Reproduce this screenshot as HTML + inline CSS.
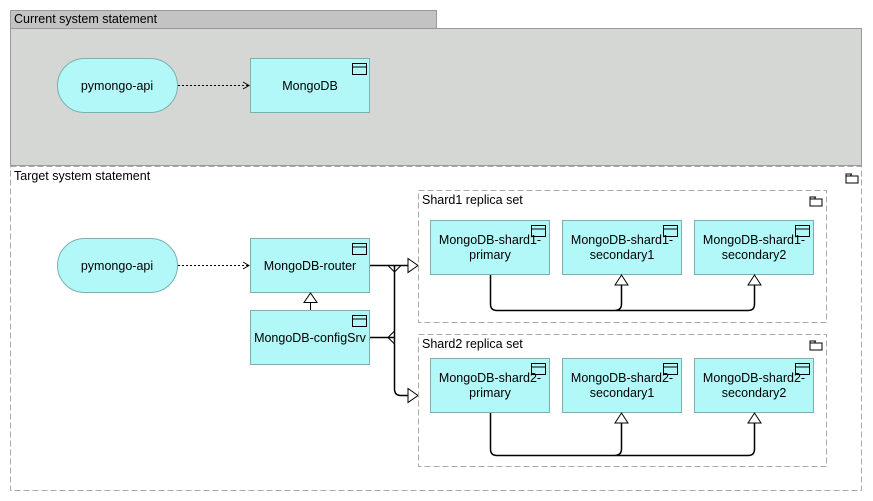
<!DOCTYPE html>
<html><head><meta charset="utf-8"><style>
html,body{margin:0;padding:0;background:#fff;}
svg{display:block;}
text{font-family:"Liberation Sans",sans-serif;fill:#000;}
</style></head><body>
<svg width="873" height="501" viewBox="0 0 873 501" xmlns="http://www.w3.org/2000/svg">
<defs>
<g id="comp"><rect x="0" y="0" width="14" height="11" fill="none" stroke="#000" stroke-width="1"/><line x1="0" y1="3.5" x2="14" y2="3.5" stroke="#000"/></g>
<g id="fold"><path d="M0.5 2.5 H5 L6 0.5 H0.5 Z M0.5 2.5 V9.5 H12.5 V2.5 Z" fill="none" stroke="#000"/></g>
</defs>
<!-- Current -->
<rect x="10.5" y="10.5" width="426" height="18" fill="#c2c3c2" stroke="#999"/>
<text x="14" y="23" font-size="12.5">Current system statement</text>
<rect x="10.5" y="28.5" width="851" height="137" fill="#d5d7d5" stroke="#999"/>
<rect x="57.5" y="58.5" width="120" height="54" rx="27" fill="#b3f8f8" stroke="#7ab0ae"/>
<text x="117" y="90" font-size="12.5" text-anchor="middle">pymongo-api</text>
<rect x="250.5" y="58.5" width="119" height="54" fill="#b3f8f8" stroke="#7ab0ae"/>
<use href="#comp" x="352.5" y="63.5"/>
<text x="310" y="90" font-size="12.5" text-anchor="middle">MongoDB</text>
<line x1="178" y1="85.5" x2="249" y2="85.5" stroke="#000" stroke-dasharray="2,2"/>
<path d="M243 82 L249 85.5 L243 89" fill="none" stroke="#000"/>
<!-- Target -->
<rect x="10.5" y="166.5" width="851" height="324" fill="#fff" stroke="#aaa" stroke-dasharray="6,3"/>
<text x="14" y="180" font-size="12.5">Target system statement</text>
<use href="#fold" x="845.5" y="173.5"/>
<rect x="57.5" y="238.5" width="120" height="54" rx="27" fill="#b3f8f8" stroke="#7ab0ae"/>
<text x="117" y="270" font-size="12.5" text-anchor="middle">pymongo-api</text>
<line x1="178" y1="265.5" x2="249" y2="265.5" stroke="#000" stroke-dasharray="2,2"/>
<path d="M243 262 L249 265.5 L243 269" fill="none" stroke="#000"/>
<rect x="250.5" y="238.5" width="119" height="54" fill="#b3f8f8" stroke="#7ab0ae"/>
<use href="#comp" x="352.5" y="243.5"/>
<text x="310" y="270" font-size="12.5" text-anchor="middle">MongoDB-router</text>
<rect x="250.5" y="310.5" width="119" height="54" fill="#b3f8f8" stroke="#7ab0ae"/>
<use href="#comp" x="352.5" y="315.5"/>
<text x="310" y="342" font-size="12.5" text-anchor="middle">MongoDB-configSrv</text>
<line x1="310.5" y1="310" x2="310.5" y2="302" stroke="#000"/>
<path d="M304 302.5 L310.5 293 L317 302.5 Z" fill="#fff" stroke="#000"/>
<!-- connectors -->
<path d="M370 265.5 H408 M394.5 265.5 V389 Q394.5 395.5 401 395.5 H408 M370 337.5 H394.5" fill="none" stroke="#000" stroke-width="1.5"/>
<path d="M388 265.5 L394.5 272 L401 265.5" fill="none" stroke="#000"/>
<path d="M394.5 331 L388 337.5 L394.5 344" fill="none" stroke="#000"/>
<path d="M408 258.5 L418 265.5 L408 272.5 Z" fill="#fff" stroke="#000"/>
<path d="M408 388.5 L418 395.5 L408 402.5 Z" fill="#fff" stroke="#000"/>
<!-- Shard1 -->
<rect x="418.5" y="190.5" width="408" height="132" fill="#fff" stroke="#aaa" stroke-dasharray="6,3"/>
<text x="422" y="204" font-size="12.5">Shard1 replica set</text>
<use href="#fold" x="809.5" y="196.5"/>
<g font-size="12.5" text-anchor="middle">
<rect x="430.5" y="220.5" width="119" height="54" fill="#b3f8f8" stroke="#7ab0ae"/>
<text x="490" y="244">MongoDB-shard1-</text><text x="490" y="259">primary</text>
<rect x="562.5" y="220.5" width="119" height="54" fill="#b3f8f8" stroke="#7ab0ae"/>
<text x="622" y="244">MongoDB-shard1-</text><text x="622" y="259">secondary1</text>
<rect x="694.5" y="220.5" width="119" height="54" fill="#b3f8f8" stroke="#7ab0ae"/>
<text x="754" y="244">MongoDB-shard1-</text><text x="754" y="259">secondary2</text>
</g>
<use href="#comp" x="531.5" y="225.5"/><use href="#comp" x="663.5" y="225.5"/><use href="#comp" x="795.5" y="225.5"/>
<path d="M490.5 275 V304 Q490.5 310.5 497 310.5 H748 Q754.5 310.5 754.5 304 V285 M614 310.5 Q621.5 310.5 621.5 304 V285" fill="none" stroke="#000" stroke-width="1.5"/>
<path d="M615 285 L621.5 275 L628 285 Z" fill="#fff" stroke="#000"/>
<path d="M748 285 L754.5 275 L761 285 Z" fill="#fff" stroke="#000"/>
<!-- Shard2 -->
<rect x="418.5" y="334.5" width="408" height="132" fill="#fff" stroke="#aaa" stroke-dasharray="6,3"/>
<text x="422" y="348" font-size="12.5">Shard2 replica set</text>
<use href="#fold" x="809.5" y="340.5"/>
<g font-size="12.5" text-anchor="middle">
<rect x="430.5" y="358.5" width="119" height="54" fill="#b3f8f8" stroke="#7ab0ae"/>
<text x="490" y="382">MongoDB-shard2-</text><text x="490" y="397">primary</text>
<rect x="562.5" y="358.5" width="119" height="54" fill="#b3f8f8" stroke="#7ab0ae"/>
<text x="622" y="382">MongoDB-shard2-</text><text x="622" y="397">secondary1</text>
<rect x="694.5" y="358.5" width="119" height="54" fill="#b3f8f8" stroke="#7ab0ae"/>
<text x="754" y="382">MongoDB-shard2-</text><text x="754" y="397">secondary2</text>
</g>
<use href="#comp" x="531.5" y="363.5"/><use href="#comp" x="663.5" y="363.5"/><use href="#comp" x="795.5" y="363.5"/>
<path d="M490.5 413 V449 Q490.5 455.5 497 455.5 H748 Q754.5 455.5 754.5 449 V423 M614 455.5 Q621.5 455.5 621.5 449 V423" fill="none" stroke="#000" stroke-width="1.5"/>
<path d="M615 423 L621.5 413 L628 423 Z" fill="#fff" stroke="#000"/>
<path d="M748 423 L754.5 413 L761 423 Z" fill="#fff" stroke="#000"/>
</svg>
</body></html>
